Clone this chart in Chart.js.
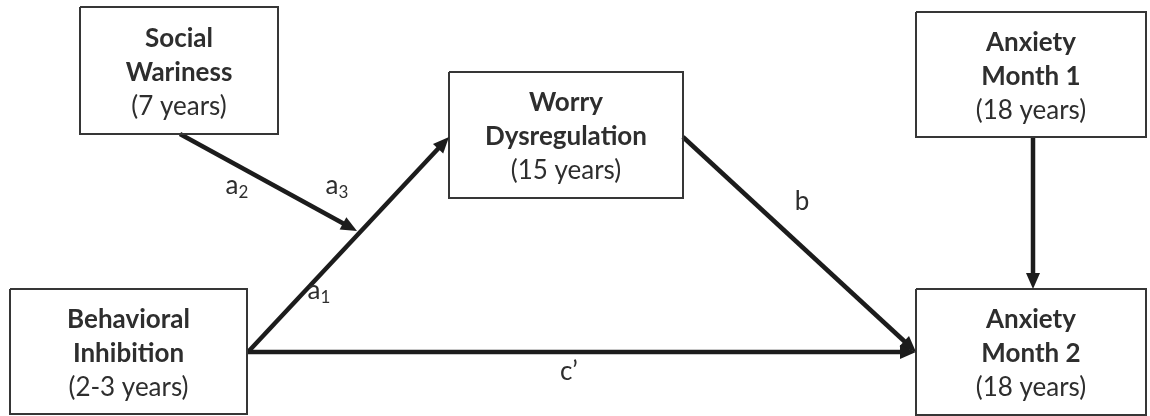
<!DOCTYPE html>
<html>
<head>
<meta charset="utf-8">
<script src="https://cdn.jsdelivr.net/npm/chart.js@4.4.1/dist/chart.umd.min.js"></script>
<style>
  html, body { margin: 0; padding: 0; background: #fff; }
</style>
</head>
<body>
<canvas id="myChart" width="1150" height="416"></canvas>
<script>
// boxes of the path model (pixel units of the 1150x416 picture)
var boxTitles = [['Social', 'Wariness'], ['Behavioral', 'Inhibition'], ['Worry', 'Dysregulation'], ['Anxiety', 'Month 1'], ['Anxiety', 'Month 2']];
var boxAges   = ['(7 years)', '(2-3 years)', '(15 years)', '(18 years)', '(18 years)'];
var boxLeft   = [80, 10, 449, 916, 916];
var boxTop    = [7, 289, 72, 12, 289];
var boxRight  = [278, 247, 683, 1146, 1146];
var boxBottom = [134, 414, 198, 137, 415];

// paths (arrows)
var edgeFromX = [248, 180, 683, 248, 1033];
var edgeFromY = [352, 134, 137, 352, 137];
var edgeToX   = [449, 357, 916, 916, 1033];
var edgeToY   = [137, 231, 352, 352, 289];

// path labels
var pathNames = ['a', 'a', 'a', 'b', 'c\u2019'];
var pathSubs  = ['1', '2', '3', '', ''];
var labelX    = [314, 232, 332, 802, 569];
var labelY    = [291, 186, 186, 202, 372];

var HEAD_LEN = 16;
var HEAD_W = 7;

var datasets = [];

// box outlines
boxLeft.forEach(function (l, i) {
  datasets.push({
    data: [
      {x: l, y: boxTop[i]}, {x: boxRight[i], y: boxTop[i]},
      {x: boxRight[i], y: boxBottom[i]}, {x: l, y: boxBottom[i]},
      {x: l, y: boxTop[i]}
    ],
    showLine: true,
    borderColor: '#363636',
    borderWidth: 2,
    pointRadius: 0,
    fill: false
  });
});

// arrow shafts (stop where the head begins)
edgeFromX.forEach(function (fx, i) {
  var dx = edgeToX[i] - fx, dy = edgeToY[i] - edgeFromY[i];
  var len = Math.sqrt(dx * dx + dy * dy);
  datasets.push({
    data: [
      {x: fx, y: edgeFromY[i]},
      {x: edgeToX[i] - dx / len * (HEAD_LEN - 2), y: edgeToY[i] - dy / len * (HEAD_LEN - 2)}
    ],
    showLine: true,
    borderColor: '#1c1c1c',
    borderWidth: 4.5,
    pointRadius: 0,
    fill: false
  });
});

var diagramPlugin = {
  id: 'diagram',
  afterDatasetsDraw: function (chart) {
    var ctx = chart.ctx;
    var xs = chart.scales.x, ys = chart.scales.y;
    ctx.save();

    // arrow heads
    ctx.fillStyle = '#1c1c1c';
    edgeFromX.forEach(function (fx, i) {
      var x0 = xs.getPixelForValue(fx), y0 = ys.getPixelForValue(edgeFromY[i]);
      var x1 = xs.getPixelForValue(edgeToX[i]), y1 = ys.getPixelForValue(edgeToY[i]);
      var dx = x1 - x0, dy = y1 - y0;
      var len = Math.sqrt(dx * dx + dy * dy);
      var ux = dx / len, uy = dy / len;
      var bx = x1 - ux * HEAD_LEN, by = y1 - uy * HEAD_LEN;
      ctx.beginPath();
      ctx.moveTo(x1, y1);
      ctx.lineTo(bx - uy * HEAD_W, by + ux * HEAD_W);
      ctx.lineTo(bx + uy * HEAD_W, by - ux * HEAD_W);
      ctx.closePath();
      ctx.fill();
    });

    // box texts
    ctx.fillStyle = '#2e2e2e';
    ctx.textAlign = 'center';
    ctx.textBaseline = 'middle';
    boxTitles.forEach(function (lines, i) {
      var cx = xs.getPixelForValue((boxLeft[i] + boxRight[i]) / 2);
      var cy = ys.getPixelForValue((boxTop[i] + boxBottom[i]) / 2);
      ctx.font = 'bold 26px Lato';
      ctx.fillText(lines[0], cx, cy - 32);
      ctx.fillText(lines[1], cx, cy + 2);
      ctx.font = '26px Lato';
      ctx.fillText(boxAges[i], cx, cy + 36);
    });

    // path labels with subscripts
    pathNames.forEach(function (name, i) {
      var px = xs.getPixelForValue(labelX[i]), py = ys.getPixelForValue(labelY[i]);
      ctx.font = '26px Lato';
      ctx.textAlign = 'center';
      ctx.fillText(name, px, py);
      if (pathSubs[i]) {
        var w = ctx.measureText(name).width;
        ctx.font = '17px Lato';
        ctx.textAlign = 'left';
        ctx.fillText(pathSubs[i], px + w / 2, py + 7);
      }
    });

    ctx.restore();
  }
};

var ctx = document.getElementById('myChart');
var myChart = new Chart(ctx, {
  type: 'scatter',
  data: { datasets: datasets },
  options: {
    responsive: false,
    animation: false,
    layout: { padding: 0 },
    plugins: {
      legend: { display: false },
      tooltip: { enabled: false }
    },
    scales: {
      x: { type: 'linear', min: 0, max: 1150, display: false },
      y: { type: 'linear', min: 0, max: 416, reverse: true, display: false }
    }
  },
  plugins: [diagramPlugin]
});
</script>
</body>
</html>
